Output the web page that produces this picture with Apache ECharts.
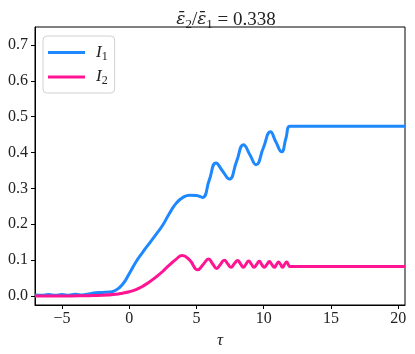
<!DOCTYPE html>
<html>
<head>
<meta charset="utf-8">
<script src="https://cdn.jsdelivr.net/npm/echarts@6/dist/echarts.min.js"></script>
<style>
    html, body { margin: 0; padding: 0; background: #fff; }
    #chartDiv { width: 415px; height: 354px; }
</style>
</head>
<body>
<div id="chartDiv"></div>
<script>
// 初始化图表
var myChart = echarts.init(document.getElementById('chartDiv'));

// 数据
var i1Tau = [-7, -6.5, -6, -5.5, -5, -4.5, -4, -3.5, -3, -2.5, -2, -1.5, -1, -0.5, 0, 0.5, 1, 1.5, 2, 2.5, 3, 3.5, 4, 4.5, 5,
    5.45, 5.95, 6.45, 6.95, 7.45, 7.97, 8.5, 8.97, 9.43, 9.96, 10.5, 10.9, 11.33, 11.65, 11.95, 12.5, 20.5];
var i1Val = [0.003, 0.002, 0.004, 0.002, 0.004, 0.002, 0.005, 0.003, 0.006, 0.009, 0.010, 0.011, 0.016, 0.032, 0.062, 0.095, 0.122, 0.147, 0.172, 0.198, 0.231, 0.259, 0.275, 0.281, 0.280,
    0.275, 0.323, 0.371, 0.348, 0.326, 0.374, 0.422, 0.394, 0.366, 0.412, 0.458, 0.430, 0.402, 0.440, 0.473, 0.473, 0.473];

var i2Tau = [-7, -5, -3, -2, -1, -0.5, 0, 0.5, 1, 1.5, 2, 2.5, 3, 3.5, 3.93, 4.5, 5.09, 5.5, 5.9, 6.2, 6.5, 6.78, 7.07, 7.32, 7.57,
    7.81, 8.06, 8.27, 8.49, 8.68, 8.88, 9.08, 9.28, 9.47, 9.67, 9.85, 10.04, 10.23, 10.42, 10.6, 10.79, 10.95, 11.1, 11.25, 11.4,
    11.55, 11.7, 11.85, 11.95, 12.5, 20.5];
var i2Val = [0.000, 0.000, 0.001, 0.002, 0.005, 0.008, 0.012, 0.018, 0.027, 0.039, 0.053, 0.069, 0.087, 0.103, 0.113, 0.100, 0.073, 0.088, 0.103, 0.090, 0.077, 0.088, 0.100, 0.090, 0.080,
    0.090, 0.099, 0.090, 0.080, 0.089, 0.098, 0.089, 0.080, 0.088, 0.097, 0.088, 0.080, 0.088, 0.096, 0.088, 0.080, 0.088, 0.095, 0.088, 0.080,
    0.088, 0.095, 0.086, 0.082, 0.082, 0.082];

var xTicks = [-5, 0, 5, 10, 15, 20];
var yTicks = [0, 0.1, 0.2, 0.3, 0.4, 0.5, 0.6, 0.7];

var serif = 'Liberation Serif';

function pairs(xs, ys) {
    return xs.map(function (x, i) { return [x, ys[i]]; });
}

function $ext(a, b) {
    var out = {};
    for (var k in a) out[k] = a[k];
    for (var k2 in b) out[k2] = b[k2];
    return out;
}

// 坐标轴通用设置
var axisCommon = {
    type: 'value',
    splitLine: { show: false },
    axisLine: { show: true, onZero: false, lineStyle: { color: '#000', width: 1 } },
    axisTick: { show: true, inside: false, length: 4, lineStyle: { color: '#000', width: 1 } },
    axisLabel: { color: '#222', fontFamily: serif, fontSize: 16 }
};

var option = {
    backgroundColor: '#fff',
    animation: false,
    title: {
        text: '{e|ε̄}{s|2}{t|/}{e|ε̄}{s|1}{t| = 0.338}',
        left: 221,
        top: 4,
        textAlign: 'center',
        textStyle: {
            fontWeight: 'normal',
            rich: {
                e: { fontFamily: 'DejaVu Serif', fontStyle: 'italic', fontWeight: 'normal', fontSize: 17, color: '#222' },
                s: { fontFamily: serif, fontWeight: 'normal', fontSize: 13, color: '#222', padding: [9, 0, 0, 0] },
                t: { fontFamily: serif, fontWeight: 'normal', fontSize: 19, color: '#222' }
            }
        }
    },
    grid: {
        left: 35,
        right: 10,
        top: 27,
        bottom: 49,
        show: true,
        borderColor: '#000',
        borderWidth: 1
    },
    legend: {
        orient: 'vertical',
        left: 43,
        top: 36,
        padding: [8, 7, 6, 5],
        itemWidth: 37,
        itemHeight: 3,
        itemGap: 6,
        icon: 'rect',
        borderColor: '#d0d0d0',
        borderWidth: 1,
        borderRadius: 4,
        backgroundColor: '#fff',
        data: ['I1', 'I2'],
        formatter: function (name) {
            return '{i|I}{s|' + name.slice(1) + '}';
        },
        textStyle: {
            rich: {
                i: { fontFamily: serif, fontStyle: 'italic', fontSize: 17, color: '#222', padding: [0, 0, 0, 6] },
                s: { fontFamily: serif, fontSize: 12, color: '#222', padding: [8, 0, 0, 0] }
            }
        }
    },
    xAxis: $ext(axisCommon, {
        min: -7,
        max: 20.5,
        name: 'τ',
        nameLocation: 'middle',
        nameGap: 25,
        nameTextStyle: { fontFamily: serif, fontStyle: 'italic', fontSize: 17, color: '#222' },
        axisTick: $ext(axisCommon.axisTick, { customValues: xTicks }),
        axisLabel: $ext(axisCommon.axisLabel, {
            customValues: xTicks,
            margin: 6,
            formatter: function (v) { return String(v).replace('-', '\u2212'); }
        })
    }),
    yAxis: $ext(axisCommon, {
        min: -0.025,
        max: 0.75,
        axisTick: $ext(axisCommon.axisTick, { customValues: yTicks }),
        axisLabel: $ext(axisCommon.axisLabel, {
            customValues: yTicks,
            margin: 7,
            formatter: function (v) { return v.toFixed(1); }
        })
    }),
    series: [
        {
            name: 'I1',
            type: 'line',
            data: pairs(i1Tau, i1Val),
            smooth: 0.5,
            symbol: 'none',
            showSymbol: false,
            color: '#1e88ff',
            lineStyle: { color: '#1e88ff', width: 3 }
        },
        {
            name: 'I2',
            type: 'line',
            data: pairs(i2Tau, i2Val),
            smooth: 0.5,
            symbol: 'none',
            showSymbol: false,
            color: '#ff1493',
            lineStyle: { color: '#ff1493', width: 3 }
        }
    ]
};

myChart.setOption(option);
</script>
</body>
</html>
